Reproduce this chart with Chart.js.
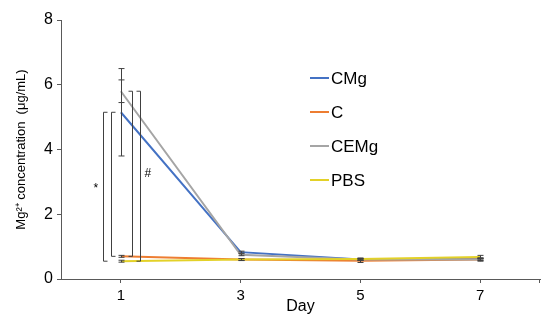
<!DOCTYPE html>
<html>
<head>
<meta charset="utf-8">
<script src="https://cdn.jsdelivr.net/npm/chart.js@4/dist/chart.umd.min.js"></script>
<style>
  html, body { margin: 0; padding: 0; background: #fff; }
  #wrap { width: 550px; height: 328px; }
</style>
</head>
<body>
<div id="wrap"><canvas id="ChartMg"></canvas></div>
<script>
// data
const days = ["1", "3", "5", "7"];
const cmg  = [5.15, 0.83, 0.60, 0.62];
const c    = [0.70, 0.60, 0.56, 0.60];
const cemg = [5.80, 0.75, 0.60, 0.60];
const pbs  = [0.55, 0.60, 0.62, 0.68];
// standard deviations
const cmgErr  = [1.35, 0.03, 0.03, 0.03];
const cErr    = [0.03, 0.03, 0.05, 0.03];
const cemgErr = [0.35, 0.03, 0.03, 0.05];
const pbsErr  = [0.03, 0.03, 0.03, 0.05];

const FONT = "'Liberation Sans', Arial, sans-serif";
const axisColor = "#595959";

const series = [
  { label: "CMg",  data: cmg,  err: cmgErr,  color: "#4472C4", order: 4 },
  { label: "C",    data: c,    err: cErr,    color: "#ED7D31", order: 3 },
  { label: "CEMg", data: cemg, err: cemgErr, color: "#A5A5A5", order: 2 },
  { label: "PBS",  data: pbs,  err: pbsErr,  color: "#E3D128", order: 1 }
];

// significance brackets at day 1 (x offset in px from the day-1 point)
const brackets = [
  { from: cmg[0],  to: pbs[0], dx: -18, side: "left" },
  { from: cmg[0],  to: c[0],   dx: -10, side: "left" },
  { from: cemg[0], to: c[0],   dx: 11,  side: "right" },
  { from: cemg[0], to: pbs[0], dx: 19,  side: "right" }
];
const marks = [
  { text: "*", y: 2.8,  dx: -25 },
  { text: "#", y: 3.25, dx: 27 }
];

const extras = {
  id: "extras",
  afterDatasetsDraw(chart) {
    const ctx = chart.ctx;
    const xs = chart.scales.x, ys = chart.scales.y;
    ctx.save();
    // error bars
    ctx.strokeStyle = "#404040";
    ctx.lineWidth = 1;
    series.forEach(s => {
      s.data.forEach((v, i) => {
        const x = Math.round(xs.getPixelForValue(i)) + 0.5;
        const y1 = ys.getPixelForValue(v - s.err[i]);
        const y2 = ys.getPixelForValue(v + s.err[i]);
        ctx.beginPath();
        ctx.moveTo(x, y1); ctx.lineTo(x, y2);
        ctx.moveTo(x - 3, y1); ctx.lineTo(x + 3, y1);
        ctx.moveTo(x - 3, y2); ctx.lineTo(x + 3, y2);
        ctx.stroke();
      });
    });
    // brackets
    const x0 = xs.getPixelForValue(0);
    ctx.strokeStyle = "#404040";
    brackets.forEach(b => {
      const x = Math.round(x0 + b.dx) + 0.5;
      const cap = b.side === "left" ? 4 : -4;
      const yt = ys.getPixelForValue(b.from);
      const yb = ys.getPixelForValue(b.to);
      ctx.beginPath();
      ctx.moveTo(x + cap, yt); ctx.lineTo(x, yt); ctx.lineTo(x, yb); ctx.lineTo(x + cap, yb);
      ctx.stroke();
    });
    ctx.fillStyle = "#000";
    ctx.font = "12px " + FONT;
    ctx.textAlign = "center";
    ctx.textBaseline = "middle";
    marks.forEach(m => ctx.fillText(m.text, x0 + m.dx, ys.getPixelForValue(m.y)));
    // end tick on x axis
    ctx.strokeStyle = axisColor;
    ctx.beginPath();
    ctx.moveTo(chart.chartArea.right - 0.5, ys.bottom);
    ctx.lineTo(chart.chartArea.right - 0.5, ys.bottom + 4);
    ctx.stroke();
    // legend
    ctx.font = "17px " + FONT;
    ctx.textAlign = "left";
    series.forEach((s, i) => {
      const y = 78 + i * 34;
      ctx.strokeStyle = s.color;
      ctx.lineWidth = 2;
      ctx.beginPath();
      ctx.moveTo(310, y); ctx.lineTo(329, y);
      ctx.stroke();
      ctx.fillStyle = "#000";
      ctx.fillText(s.label, 331, y + 1);
    });
    ctx.restore();
  }
};

new Chart(document.getElementById("ChartMg"), {
  type: "line",
  data: {
    labels: days,
    datasets: series.map(s => ({
      label: s.label,
      data: s.data,
      borderColor: s.color,
      backgroundColor: s.color,
      borderWidth: 2,
      pointRadius: 0,
      tension: 0,
      order: s.order
    }))
  },
  options: {
    responsive: true,
    maintainAspectRatio: false,
    animation: false,
    layout: { padding: { left: 0, right: 10, top: 20, bottom: 0 } },
    plugins: { legend: { display: false }, tooltip: { enabled: false } },
    scales: {
      x: {
        offset: true,
        afterFit(scale) { scale.height = 49; },
        grid: { drawOnChartArea: false, drawTicks: true, tickLength: 4, color: axisColor },
        border: { color: axisColor, width: 1 },
        ticks: { color: "#000", font: { family: FONT, size: 15 }, padding: 4 },
        title: { display: true, text: "Day", color: "#000", font: { family: FONT, size: 16 }, padding: { top: 0, bottom: 12 } }
      },
      y: {
        min: 0,
        max: 8,
        afterFit(scale) { scale.width = 61; },
        grid: { drawOnChartArea: false, drawTicks: true, tickLength: 4, color: axisColor },
        border: { color: axisColor, width: 1 },
        ticks: { stepSize: 2, color: "#000", font: { family: FONT, size: 16 }, padding: 4 },
        title: { display: true, text: "Mg²⁺ concentration  (μg/mL)", color: "#000", font: { family: FONT, size: 13 }, padding: { top: 14, bottom: 0 } }
      }
    }
  },
  plugins: [extras]
});
</script>
</body>
</html>
